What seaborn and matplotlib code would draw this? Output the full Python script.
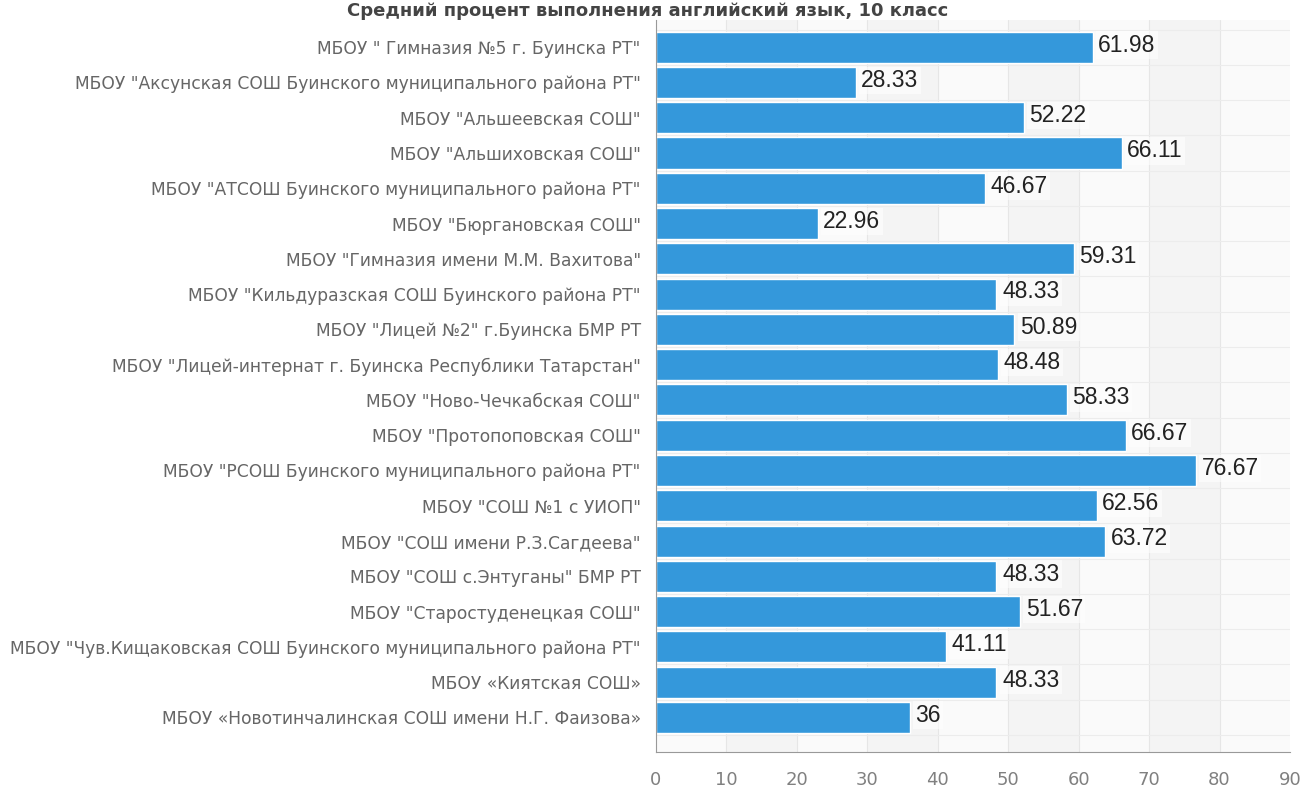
import pandas as pd
import matplotlib.pyplot as plt
import seaborn as sns

# Данные: школы и средний процент выполнения
schools = [
    'МБОУ " Гимназия №5 г. Буинска РТ"',
    'МБОУ "Аксунская СОШ Буинского муниципального района РТ"',
    'МБОУ "Альшеевская СОШ"',
    'МБОУ "Альшиховская СОШ"',
    'МБОУ "АТСОШ Буинского муниципального района РТ"',
    'МБОУ "Бюргановская СОШ"',
    'МБОУ "Гимназия имени М.М. Вахитова"',
    'МБОУ "Кильдуразская СОШ Буинского района РТ"',
    'МБОУ "Лицей №2" г.Буинска БМР РТ',
    'МБОУ "Лицей-интернат г. Буинска Республики Татарстан"',
    'МБОУ "Ново-Чечкабская СОШ"',
    'МБОУ "Протопоповская СОШ"',
    'МБОУ "РСОШ Буинского муниципального района РТ"',
    'МБОУ "СОШ №1 с УИОП"',
    'МБОУ "СОШ имени Р.З.Сагдеева"',
    'МБОУ "СОШ с.Энтуганы" БМР РТ',
    'МБОУ "Старостуденецкая СОШ"',
    'МБОУ "Чув.Кищаковская СОШ Буинского муниципального района РТ"',
    'МБОУ «Киятская СОШ»',
    'МБОУ «Новотинчалинская СОШ имени Н.Г. Фаизова»',
]
values = [61.98, 28.33, 52.22, 66.11, 46.67, 22.96, 59.31, 48.33, 50.89, 48.48,
          58.33, 66.67, 76.67, 62.56, 63.72, 48.33, 51.67, 41.11, 48.33, 36]
value_labels = ['61.98', '28.33', '52.22', '66.11', '46.67', '22.96', '59.31', '48.33',
                '50.89', '48.48', '58.33', '66.67', '76.67', '62.56', '63.72', '48.33',
                '51.67', '41.11', '48.33', '36']
x_ticks = [0, 10, 20, 30, 40, 50, 60, 70, 80, 90]
title = 'Средний процент выполнения английский язык, 10 класс'

df = pd.DataFrame({'Школа': schools, 'Процент': values})

sns.set_style('white')
plt.rcParams['font.family'] = ['DejaVu Sans']

fig = plt.figure(figsize=(13, 7.87), dpi=100)
ax = fig.add_axes([0.5046, 0.0445, 0.4877, 0.9301])

# Фоновые полосы
for i, x0 in enumerate(x_ticks[:-1]):
    ax.axvspan(x0, x0 + 10, color='#f4f4f4' if i % 2 else '#fafafa', zorder=0, lw=0)

sns.barplot(data=df, x='Процент', y='Школа', orient='h', color='#3498db',
            saturation=1, width=0.88, ax=ax, zorder=2)

ax.set_xlim(0, 90)
ax.set_ylim(len(schools) - 0.02, -0.77)
ax.set_xticks(x_ticks)
ax.set_xlabel('')
ax.set_ylabel('')

# Сетка
for x in x_ticks[1:-1]:
    ax.axvline(x, color='#e6e6e6', lw=0.8, zorder=1)
for k in range(len(schools) + 1):
    ax.axhline(k - 0.5, color='#ececec', lw=0.8, zorder=1)

# Подписи значений
for i, (v, lab) in enumerate(zip(values, value_labels)):
    ax.text(v + 0.8, i - 0.06, lab, va='center', ha='left', fontsize=16.5,
            color='#222222', family='Liberation Sans', zorder=3,
            bbox=dict(boxstyle='square,pad=0.1', fc='white', ec='none', alpha=0.55))

for s in ['top', 'right']:
    ax.spines[s].set_visible(False)
ax.spines['left'].set_color('#999999')
ax.spines['bottom'].set_color('#999999')
ax.tick_params(axis='y', length=7, color='#999999', labelsize=12.3,
               labelcolor='#666666', pad=4)
ax.tick_params(axis='x', length=8, color='#999999', labelsize=13,
               labelcolor='#808080', pad=6)

fig.text(0.498, 1 - 2 / 787, title, ha='center', va='top', fontsize=13,
         fontweight='bold', color='#444444')

fig.savefig('out.png', dpi=100)
